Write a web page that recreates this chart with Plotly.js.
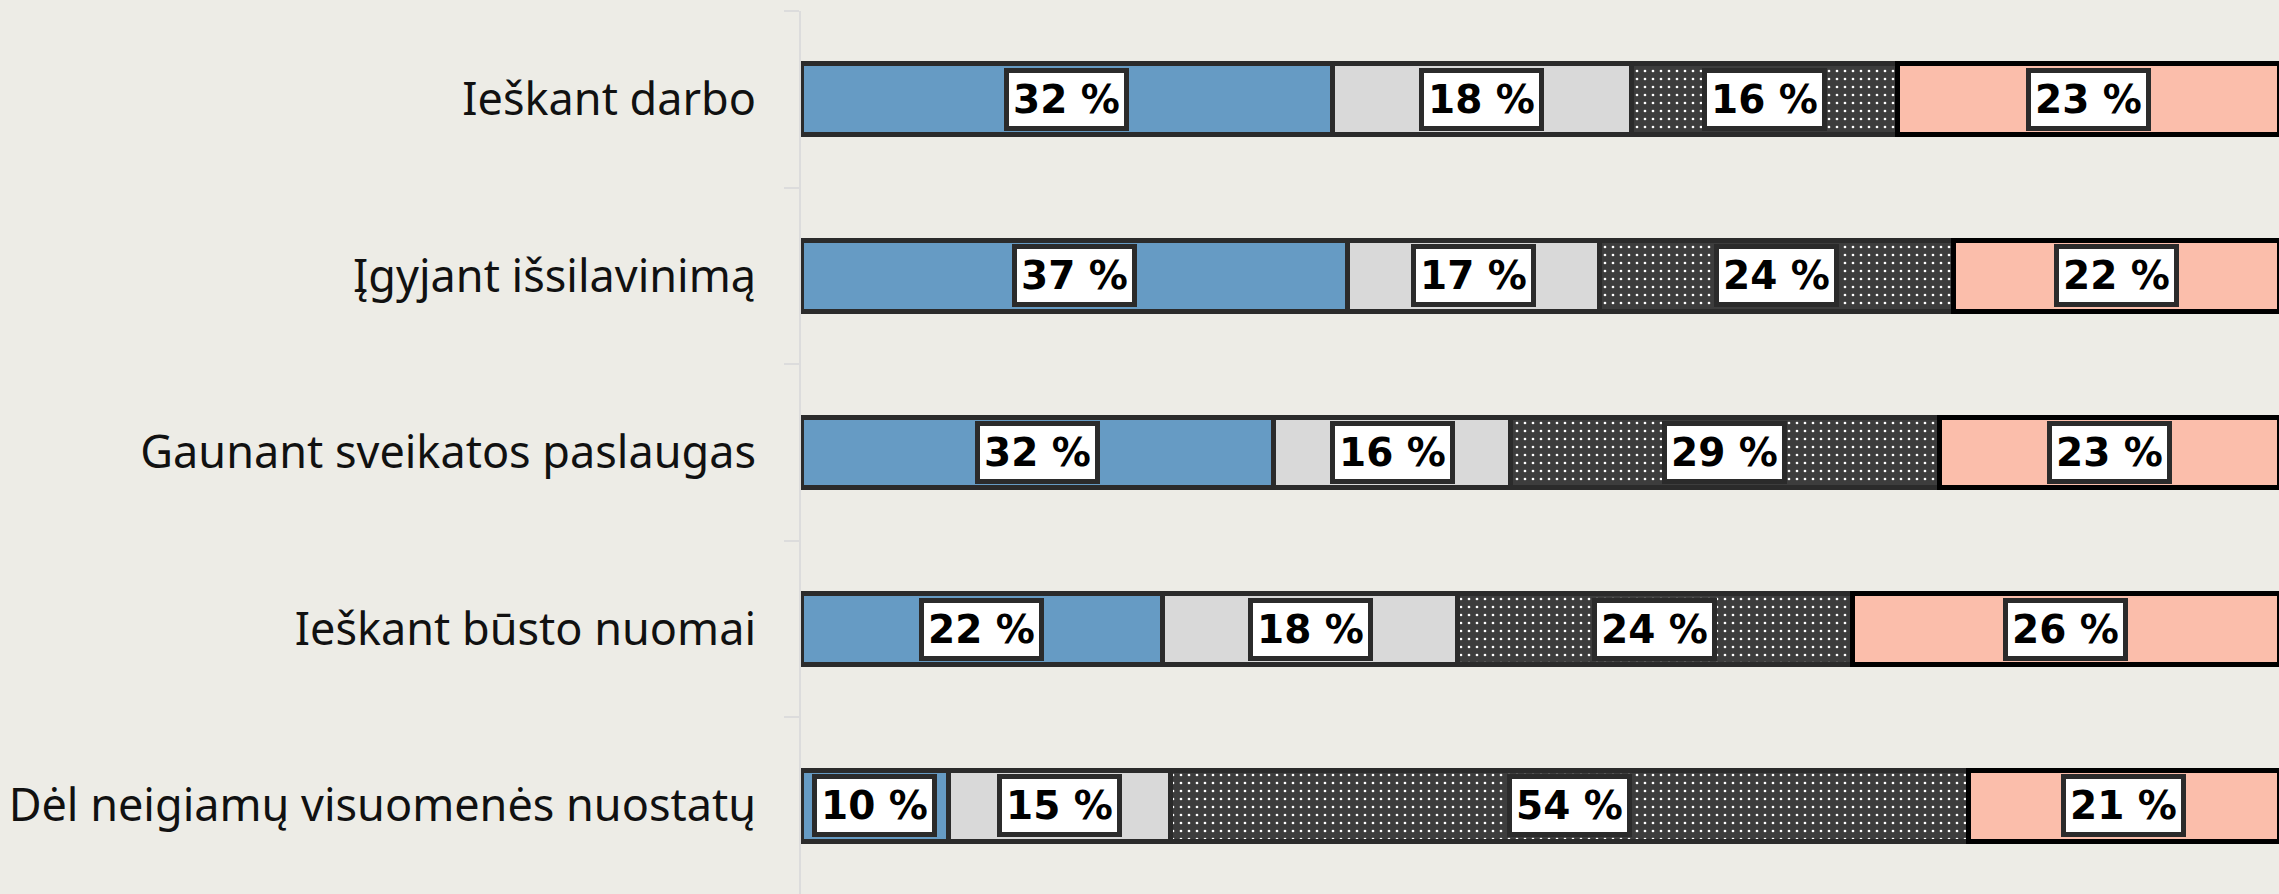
<!DOCTYPE html>
<html>
<head>
<meta charset="utf-8">
<script src="https://cdn.plot.ly/plotly-3.0.1.min.js"></script>
<style>
  html, body { margin: 0; padding: 0; background: #edece6; }
  #chart { width: 2279px; height: 894px; }
</style>
</head>
<body>
<div id="chart"></div>
<script>
const categories = [
  'Ieškant darbo',
  'Įgyjant išsilavinimą',
  'Gaunant sveikatos paslaugas',
  'Ieškant būsto nuomai',
  'Dėl neigiamų visuomenės nuostatų'
];
const series1 = [32, 37, 32, 22, 10];
const series2 = [18, 17, 16, 18, 15];
const series3 = [16, 24, 29, 24, 54];
const series4 = [23, 22, 23, 26, 21];
const seriesNames = ['1', '2', '3', '4'];

const allSeries = [series1, series2, series3, series4];
const styles = [
  { color: '#669bc4', line: { color: '#2b2b2b', width: 5 } },
  { color: '#d9d9d9', line: { color: '#2b2b2b', width: 5 } },
  { color: '#3d3d3d', line: { color: '#2b2b2b', width: 5 },
    pattern: { shape: '.', fillmode: 'replace', bgcolor: '#3d3d3d', fgcolor: '#ffffff', size: 8, solidity: 0.09 } },
  { color: '#fbbeab', line: { color: '#000000', width: 5 } }
];

const traces = allSeries.map((vals, j) => ({
  type: 'bar',
  orientation: 'h',
  name: seriesNames[j],
  y: categories,
  x: vals,
  marker: styles[j],
  hoverinfo: 'none',
  textposition: 'none'
}));

// label boxes at the centre of each (normalised) segment
const annotations = [];
categories.forEach((cat, i) => {
  const total = allSeries.reduce((s, ser) => s + ser[i], 0);
  let cum = 0;
  allSeries.forEach((ser) => {
    const v = ser[i];
    const centre = (cum + v / 2) / total * 100;
    cum += v;
    annotations.push({
      x: centre, y: cat, xref: 'x', yref: 'y',
      text: v + ' %',
      showarrow: false,
      font: { family: 'DejaVu Sans', size: 39, weight: 'bold', color: '#000000' },
      bgcolor: '#ffffff',
      bordercolor: '#2b2b2b',
      borderwidth: 5,
      borderpad: 4
    });
  });
});

const layout = {
  width: 2279,
  height: 894,
  paper_bgcolor: '#edece6',
  plot_bgcolor: '#edece6',
  margin: { l: 801, r: 0, t: 11, b: 0 },
  barmode: 'stack',
  barnorm: 'percent',
  bargap: 0.6,
  showlegend: false,
  xaxis: { range: [0, 100], visible: false, fixedrange: true },
  yaxis: {
    type: 'category',
    autorange: 'reversed',
    showline: true,
    linecolor: '#dcdcdc',
    linewidth: 2,
    ticks: 'outside',
    tickson: 'boundaries',
    ticklen: 15,
    tickwidth: 2,
    tickcolor: '#dcdcdc',
    showgrid: false,
    zeroline: false,
    ticklabelstandoff: 34,
    tickfont: { family: 'Noto Sans', size: 45, color: '#111111' },
    fixedrange: true
  },
  annotations: annotations
};

Plotly.newPlot('chart', traces, layout, { displayModeBar: false, staticPlot: true });
</script>
</body>
</html>
